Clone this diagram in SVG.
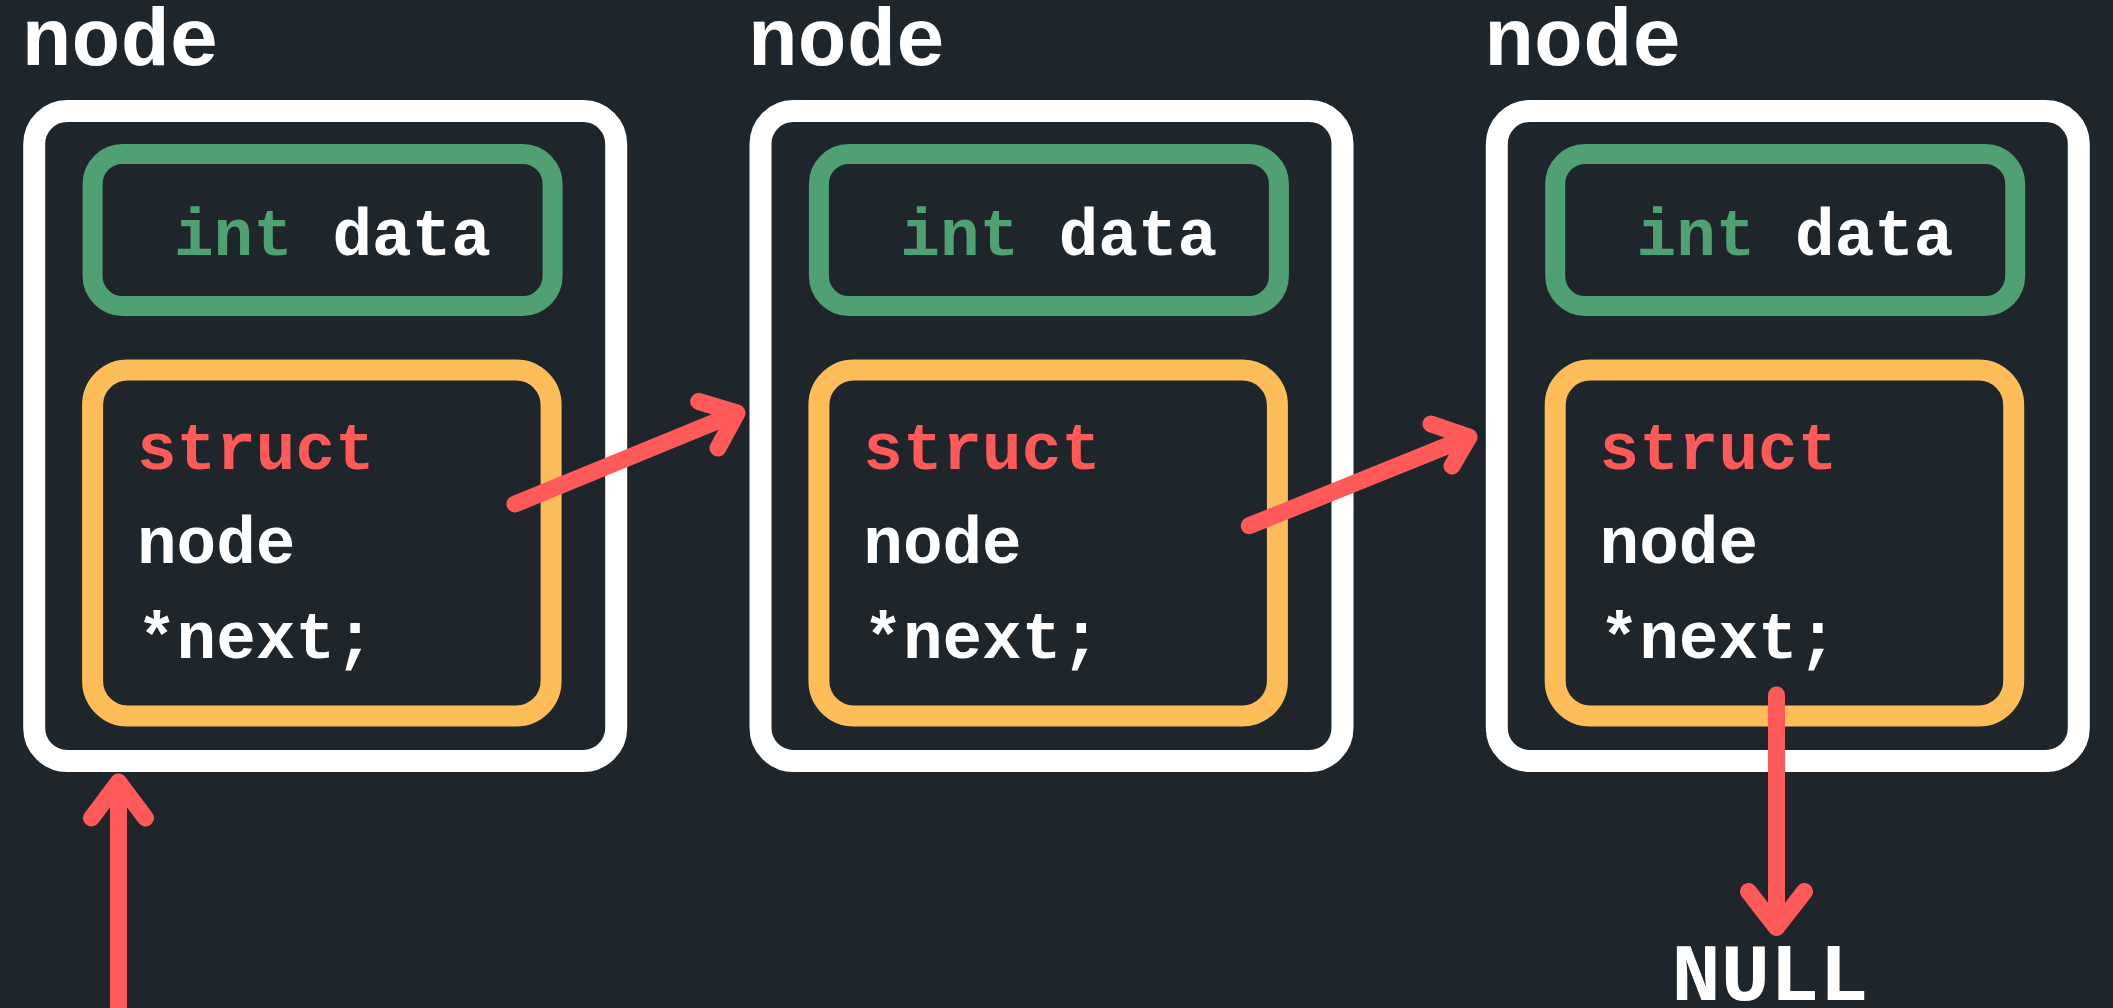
<svg xmlns="http://www.w3.org/2000/svg" width="2113" height="1008" viewBox="0 0 2113 1008">
<style>
.bg{fill:#1E252B}
.outer{fill:none;stroke:#FFFFFF;stroke-width:22}
.data{fill:none;stroke:#4FA072;stroke-width:20}
.ptr{fill:none;stroke:#FDBD59;stroke-width:21}
.t{font-family:"Liberation Mono","Courier New",monospace;font-weight:bold}
.title{font-size:82px;fill:#FFFFFF}
.code{font-size:66px;fill:#FFFFFF}
.kw-int{fill:#4FA072}
.kw-struct{fill:#FF5A5A}
.conn{fill:none;stroke:#FF5A5A;stroke-width:17;stroke-linecap:round;stroke-linejoin:round}
</style>
<defs>
<g id="nodeShape">
<text class="t title" x="22" y="65">node</text>
<rect class="outer" x="34.2" y="111" width="582" height="650" rx="33"/>
<rect class="data" x="92.6" y="154" width="460" height="152" rx="30"/>
<text class="t code" x="174" y="255"><tspan class="kw-int">int</tspan> data</text>
<rect class="ptr" x="92.6" y="370" width="458.5" height="346" rx="35"/>
<text class="t code kw-struct" x="137" y="468.5">struct</text>
<text class="t code" x="137" y="563">node</text>
<text class="t code" x="137" y="658.4">*next;</text>
</g>
</defs>
<rect class="bg" x="0" y="0" width="2113" height="1008"/>
<g id="node1"><use href="#nodeShape"/></g>
<g id="node2" transform="translate(726.3,0)"><use href="#nodeShape"/></g>
<g id="node3" transform="translate(1462.6,0)"><use href="#nodeShape"/></g>
<g id="null"><text class="t title" x="1770" y="1000" text-anchor="middle">NULL</text></g>
<g id="connectors">
<path class="conn" d="M515,504 L737,413 M698.7,401.5 L737,413 L718,448"/>
<path class="conn" d="M1249.3,525.7 L1469,437 M1431,424 L1469,437 L1452,466"/>
<path class="conn" d="M118.5,1020 L118.5,782 M91.5,818 L118.5,782 L145.5,818"/>
<path class="conn" d="M1776.5,695 L1776.5,927.5 M1748.5,891.5 L1776.5,927.5 L1804.5,891.5"/>
</g>
</svg>
